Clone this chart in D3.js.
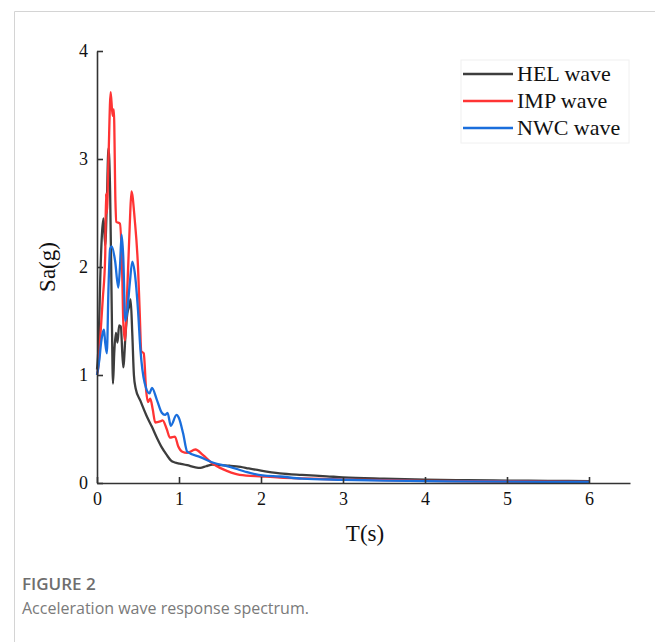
<!DOCTYPE html>
<html>
<head>
<meta charset="utf-8">
<script src="https://cdn.jsdelivr.net/npm/d3@7"></script>
<style>
  body { margin: 0; background: #fff; }
  svg { display: block; }
</style>
</head>
<body>
<div class="chart"></div>
<script>
// periods (s) and spectral acceleration (g)
const helWave = [
  [0, 1.05], [0.02, 1.3], [0.04, 1.9], [0.06, 2.3], [0.08, 2.45], [0.1, 2.2],
  [0.12, 2.6], [0.14, 3.1], [0.16, 2.7], [0.18, 1.6], [0.195, 0.92], [0.21, 1.2],
  [0.23, 1.39], [0.25, 1.3], [0.27, 1.46], [0.29, 1.45], [0.32, 1.07], [0.35, 1.4],
  [0.37, 1.57], [0.39, 1.63], [0.41, 1.7], [0.43, 1.39], [0.45, 1.0], [0.47, 0.88],
  [0.53, 0.76], [0.6, 0.63], [0.67, 0.52], [0.73, 0.42], [0.79, 0.33], [0.85, 0.26],
  [0.9, 0.21], [0.95, 0.19], [1.01, 0.18], [1.1, 0.165], [1.2, 0.145], [1.26, 0.14],
  [1.33, 0.155], [1.41, 0.17], [1.5, 0.165], [1.62, 0.16], [1.75, 0.15], [1.85, 0.135],
  [2.0, 0.115], [2.23, 0.09], [2.5, 0.075], [2.8, 0.062], [3.0, 0.052], [3.5, 0.04],
  [4.0, 0.032], [4.5, 0.026], [5.0, 0.022], [5.5, 0.02], [6.0, 0.018]
]

const impWave = [
  [0, 1.0], [0.02, 1.1], [0.04, 1.35], [0.07, 1.7], [0.1, 2.1], [0.11, 2.68],
  [0.12, 2.5], [0.14, 3.0], [0.167, 3.62], [0.19, 3.4], [0.205, 3.46], [0.225, 2.6],
  [0.235, 2.42], [0.28, 2.4], [0.31, 1.85], [0.32, 1.5], [0.34, 1.32], [0.37, 1.8],
  [0.4, 2.4], [0.42, 2.7], [0.46, 2.44], [0.5, 2.0], [0.52, 1.6], [0.54, 1.22],
  [0.57, 1.2], [0.6, 0.85], [0.62, 0.75], [0.65, 0.78], [0.68, 0.68], [0.71, 0.56],
  [0.77, 0.57], [0.8, 0.58], [0.85, 0.5], [0.89, 0.42], [0.95, 0.43], [0.99, 0.34],
  [1.04, 0.29], [1.1, 0.28], [1.2, 0.31], [1.29, 0.26], [1.41, 0.18], [1.5, 0.14],
  [1.59, 0.11], [1.74, 0.075], [2.02, 0.06], [2.23, 0.05], [2.5, 0.042], [3.0, 0.032],
  [3.5, 0.026], [4.0, 0.02], [5.0, 0.014], [6.0, 0.01]
]

const nwcWave = [
  [0, 1.0], [0.03, 1.15], [0.05, 1.3], [0.07, 1.39], [0.085, 1.42], [0.1, 1.3],
  [0.12, 1.2], [0.14, 1.8], [0.16, 2.17], [0.18, 2.19], [0.22, 2.06], [0.26, 1.81],
  [0.28, 2.0], [0.3, 2.3], [0.32, 2.1], [0.345, 1.5], [0.37, 1.6], [0.4, 1.85],
  [0.43, 2.05], [0.46, 1.95], [0.5, 1.6], [0.53, 1.23], [0.58, 0.93], [0.64, 0.83],
  [0.67, 0.88], [0.73, 0.77], [0.79, 0.65], [0.83, 0.63], [0.86, 0.65], [0.9, 0.53],
  [0.97, 0.63], [1.0, 0.6], [1.05, 0.46], [1.1, 0.29], [1.26, 0.24], [1.41, 0.19],
  [1.62, 0.15], [1.83, 0.1], [2.02, 0.07], [2.23, 0.06], [2.5, 0.04], [3.0, 0.03],
  [3.5, 0.022], [4.0, 0.018], [5.0, 0.012], [6.0, 0.01]
]

const seriesNames = ['HEL wave', 'IMP wave', 'NWC wave']
const seriesColors = ['#3d3d3d', '#ff3434', '#1a6edc']
const xTicks = [0, 1, 2, 3, 4, 5, 6]
const yTicks = [0, 1, 2, 3, 4]

const width = 655
const height = 642

const svg = d3
  .select('.chart')
  .append('svg')
  .attr('width', width)
  .attr('height', height)

// figure frame
svg
  .append('path')
  .attr('d', 'M14.5,' + height + 'V11.5H' + width)
  .attr('fill', 'none')
  .attr('stroke', '#d4d4d4')

const xScale = d3.scaleLinear().domain([0, 6.5]).range([97, 630])
const yScale = d3.scaleLinear().domain([0, 4]).range([483, 51])

const xAxis = d3
  .axisBottom(xScale)
  .tickValues(xTicks)
  .tickFormat(d3.format('d'))
  .tickSizeInner(-6)
  .tickSizeOuter(0)
  .tickPadding(9)

const yAxis = d3
  .axisLeft(yScale)
  .tickValues(yTicks)
  .tickFormat(d3.format('d'))
  .tickSizeInner(-6)
  .tickSizeOuter(0)
  .tickPadding(9)

const line = d3
  .line()
  .curve(d3.curveMonotoneX)
  .x((d) => xScale(d[0]))
  .y((d) => yScale(d[1]))

const waves = [helWave, impWave, nwcWave]
waves.forEach((w, i) => {
  svg
    .append('path')
    .datum(w)
    .attr('d', line)
    .attr('fill', 'none')
    .attr('stroke', seriesColors[i])
    .attr('stroke-width', 2.3)
    .attr('stroke-linejoin', 'round')
})

for (const [axis, tr] of [
  [xAxis, 'translate(0,' + yScale(0) + ')'],
  [yAxis, 'translate(' + xScale(0) + ',0)']
]) {
  const g = svg.append('g').attr('transform', tr).call(axis)
  g.selectAll('path, line').attr('stroke', '#333').attr('stroke-width', 1.6)
  g.selectAll('text')
    .attr('fill', '#111')
    .style('font-family', '"Liberation Serif", serif')
    .style('font-size', '18px')
}

svg
  .append('text')
  .attr('x', 365)
  .attr('y', 541)
  .attr('text-anchor', 'middle')
  .style('font-family', '"Liberation Serif", serif')
  .style('font-size', '23px')
  .attr('fill', '#111')
  .text('T(s)')

svg
  .append('text')
  .attr('transform', 'translate(55,267) rotate(-90)')
  .attr('text-anchor', 'middle')
  .style('font-family', '"Liberation Serif", serif')
  .style('font-size', '23px')
  .attr('fill', '#111')
  .text('Sa(g)')

// legend
const legend = svg.append('g').attr('transform', 'translate(461,60)')
legend
  .append('rect')
  .attr('width', 168)
  .attr('height', 83)
  .attr('fill', '#fff')
  .attr('stroke', '#f0f0f0')

legend
  .selectAll('line.key')
  .data(seriesNames)
  .enter()
  .append('line')
  .attr('class', 'key')
  .attr('x1', 2)
  .attr('x2', 52)
  .attr('y1', (d, i) => 14 + i * 27)
  .attr('y2', (d, i) => 14 + i * 27)
  .attr('stroke', (d, i) => seriesColors[i])
  .attr('stroke-width', 2.3)

legend
  .selectAll('text.key')
  .data(seriesNames)
  .enter()
  .append('text')
  .attr('class', 'key')
  .attr('x', 56)
  .attr('y', (d, i) => 21 + i * 27)
  .style('font-family', '"Liberation Serif", serif')
  .style('font-size', '22px')
  .attr('fill', '#111')
  .text((d) => d)

// caption
svg
  .append('text')
  .attr('x', 22)
  .attr('y', 590)
  .style('font-family', '"Open Sans", sans-serif')
  .style('font-size', '17px')
  .style('font-weight', 600)
  .attr('fill', '#6e6e6e')
  .text('FIGURE 2')

svg
  .append('text')
  .attr('x', 22)
  .attr('y', 614)
  .style('font-family', '"Open Sans", sans-serif')
  .style('font-size', '16px')
  .attr('fill', '#7a7a7a')
  .text('Acceleration wave response spectrum.')
</script>
</body>
</html>
